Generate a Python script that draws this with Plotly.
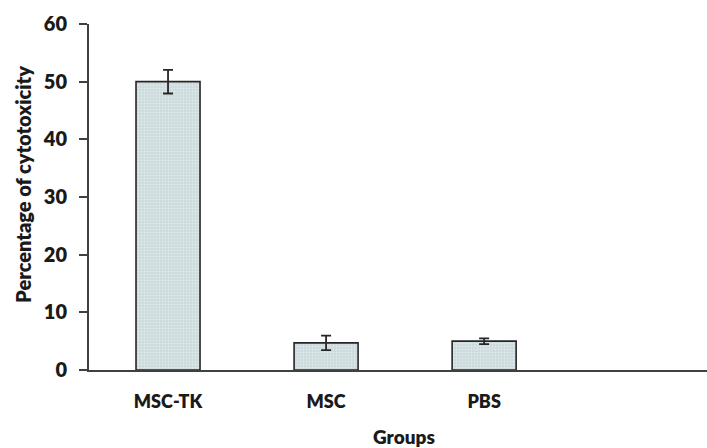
import plotly.graph_objects as go

categories = ["MSC-TK", "MSC", "PBS"]
values = [50.0, 4.7, 5.0]
errors = [2.05, 1.25, 0.5]
y_ticks = [0, 10, 20, 30, 40, 50, 60]
x_title = "Groups"
y_title = "Percentage of cytotoxicity"

font_family = "Lato, 'Open Sans', sans-serif"
W = 800

fig = go.Figure()
fig.add_trace(go.Bar(
    x=list(range(len(categories))),
    y=values,
    width=0.405,
    marker=dict(
        color="#d3dfe2",
        line=dict(color="#262626", width=1.6),
        pattern=dict(shape=".", fgcolor="#f4f8f8", bgcolor="#ccdadd", size=3, solidity=0.35),
    ),
    error_y=dict(type="data", array=errors, visible=True, color="#262626", thickness=1.8, width=5),
))

fig.update_layout(
    width=707, height=448,
    margin=dict(l=89, r=0, t=24, b=78),
    plot_bgcolor="white", paper_bgcolor="white",
    showlegend=False,
    font=dict(family=font_family, color="#1a1a1a"),
    xaxis=dict(
        range=[-0.5, 3.41],
        tickmode="array",
        tickvals=list(range(len(categories))),
        ticktext=categories,
        tickfont=dict(size=18, family=font_family, weight=W),
        ticklabelstandoff=14,
        showline=True, linecolor="#404040", linewidth=2,
        ticks="", showgrid=False, zeroline=False, automargin=False,
    ),
    yaxis=dict(
        range=[0, 60],
        tickmode="array",
        tickvals=y_ticks,
        ticktext=[str(t) for t in y_ticks],
        tickfont=dict(size=20, family=font_family, weight=W),
        showline=True, linecolor="#404040", linewidth=2,
        ticks="outside", ticklen=8, tickwidth=2, tickcolor="#404040",
        ticklabelstandoff=8,
        showgrid=False, zeroline=False, automargin=False,
    ),
    annotations=[
        dict(text=x_title, xref="paper", yref="paper", x=0.51, y=-0.152,
             xanchor="center", yanchor="top", showarrow=False,
             font=dict(size=19, family=font_family, weight=W)),
        dict(text=y_title, xref="paper", yref="paper", x=0, xshift=-66, y=0.535,
             xanchor="center", yanchor="middle", textangle=-90, showarrow=False,
             font=dict(size=20, family=font_family, weight=W)),
    ],
)

fig.write_html(
    "out.html",
    config={"displayModeBar": False},
    post_script="document.body.style.margin='0';document.body.style.overflow='hidden';",
)
